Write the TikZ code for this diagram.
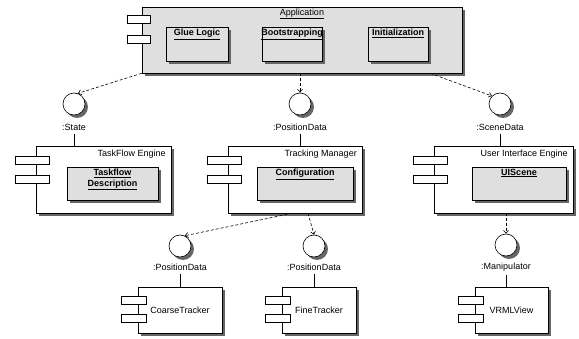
\documentclass[tikz,border=0pt]{standalone}
\usepackage{fontspec}
\setmainfont{Liberation Sans}
\usetikzlibrary{shapes,arrows.meta,positioning,shadows}

\begin{document}
\begin{tikzpicture}[x=1pt, y=-1pt, node distance=2pt, font=\fontsize{9}{10.5}\selectfont]
    % Define block styles
    \tikzstyle{shadowed} = [drop shadow={shadow xshift=3pt, shadow yshift=-3pt, fill=black!60, opacity=1}]
    \tikzstyle{component} = [rectangle, draw, fill=white, line width=0.6pt, inner sep=0pt, shadowed]
    \tikzstyle{part} = [rectangle, draw, fill=gray!25, line width=0.6pt, inner sep=0pt, shadowed]
    \tikzstyle{partlabel} = [font=\fontsize{9}{11}\selectfont\bfseries, align=center, inner sep=1pt]
    \tikzstyle{port} = [rectangle, draw, fill=white, line width=0.6pt, inner sep=0pt, minimum height=8pt]
    \tikzstyle{iface} = [circle, draw, fill=white, line width=0.6pt, inner sep=0pt, minimum size=22pt, shadowed]
    \tikzstyle{wire} = [draw, line width=0.6pt]
    \tikzstyle{depends} = [draw, line width=0.6pt, dash pattern=on 3pt off 2pt, -{Straight Barb[length=3pt, width=5pt]}]

    \useasboundingbox (0,0) rectangle (579,339);

    % Application
    \node [component, fill=gray!25, minimum width=320pt, minimum height=66pt] (Application) at (302,40) {};
    \node [port, minimum width=23pt] (Application_Port_A) at ([xshift=-2.5pt, yshift=-13pt]Application.north west) {};
    \node [port, minimum width=23pt] (Application_Port_B) at ([xshift=-2.5pt, yshift=-33pt]Application.north west) {};
    \node [below=1pt of Application.north, inner sep=1pt] (Application_Label) {\underline{Application}};
    \node [part, minimum width=62pt, minimum height=34pt] (Glue_Logic) at (197,44) {};
    \node [partlabel, below=1pt of Glue_Logic.north] (Glue_Logic_Label) {\underline{Glue Logic}};
    \node [part, minimum width=60pt, minimum height=34pt] (Bootstrapping) at (292,44) {};
    \node [partlabel, below=1pt of Bootstrapping.north] (Bootstrapping_Label) {\underline{Bootstrapping}};
    \node [part, minimum width=60pt, minimum height=34pt] (Initialization) at (398,44) {};
    \node [partlabel, below=1pt of Initialization.north] (Initialization_Label) {\underline{Initialization}};

    % Engines
    \node [component, minimum width=135pt, minimum height=67pt] (TaskFlow_Engine) at (103.5,179.5) {};
    \node [port, minimum width=34pt] (TaskFlow_Engine_Port_A) at ([xshift=-3pt, yshift=-15pt]TaskFlow_Engine.north west) {};
    \node [port, minimum width=34pt] (TaskFlow_Engine_Port_B) at ([xshift=-3pt, yshift=-33.5pt]TaskFlow_Engine.north west) {};
    \node [below left=1pt and 2pt of TaskFlow_Engine.north east] (TaskFlow_Engine_Label) {TaskFlow Engine};
    \node [part, minimum width=91pt, minimum height=33pt] (Taskflow_Description) at (112.5,183.5) {};
    \node [partlabel, below=1pt of Taskflow_Description.north] (Taskflow_Description_Label) {\underline{Taskflow}\\\underline{Description}};

    \node [component, minimum width=134pt, minimum height=67pt] (Tracking_Manager) at (295,179.5) {};
    \node [port, minimum width=34pt] (Tracking_Manager_Port_A) at ([xshift=-3pt, yshift=-15pt]Tracking_Manager.north west) {};
    \node [port, minimum width=34pt] (Tracking_Manager_Port_B) at ([xshift=-3pt, yshift=-33.5pt]Tracking_Manager.north west) {};
    \node [below left=1pt and 2pt of Tracking_Manager.north east] (Tracking_Manager_Label) {Tracking Manager};
    \node [part, minimum width=96pt, minimum height=33pt] (Configuration) at (305,183.5) {};
    \node [partlabel, below=1pt of Configuration.north] (Configuration_Label) {\underline{Configuration}};

    \node [component, minimum width=139pt, minimum height=67pt] (UI_Engine) at (503.5,179.5) {};
    \node [port, minimum width=34pt] (UI_Engine_Port_A) at ([xshift=-3pt, yshift=-15pt]UI_Engine.north west) {};
    \node [port, minimum width=34pt] (UI_Engine_Port_B) at ([xshift=-3pt, yshift=-33.5pt]UI_Engine.north west) {};
    \node [below left=1pt and 2pt of UI_Engine.north east] (UI_Engine_Label) {User Interface Engine};
    \node [part, minimum width=94pt, minimum height=33pt] (UIScene) at (519,183.5) {};
    \node [partlabel, below=1pt of UIScene.north] (UIScene_Label) {\underline{UIScene}};

    % Trackers and view
    \node [component, minimum width=84pt, minimum height=46pt] (CoarseTracker) at (180,310) {CoarseTracker};
    \node [port, minimum width=25pt] (CoarseTracker_Port_A) at ([xshift=-3.5pt, yshift=-14pt]CoarseTracker.north west) {};
    \node [port, minimum width=25pt] (CoarseTracker_Port_B) at ([xshift=-3.5pt, yshift=-32pt]CoarseTracker.north west) {};

    \node [component, minimum width=74pt, minimum height=46pt] (FineTracker) at (319,310) {FineTracker};
    \node [port, minimum width=25pt] (FineTracker_Port_A) at ([xshift=-3.5pt, yshift=-14pt]FineTracker.north west) {};
    \node [port, minimum width=25pt] (FineTracker_Port_B) at ([xshift=-3.5pt, yshift=-32pt]FineTracker.north west) {};

    \node [component, minimum width=73pt, minimum height=46pt] (VRMLView) at (511.5,310) {VRMLView};
    \node [port, minimum width=25pt] (VRMLView_Port_A) at ([xshift=-3.5pt, yshift=-14pt]VRMLView.north west) {};
    \node [port, minimum width=25pt] (VRMLView_Port_B) at ([xshift=-3.5pt, yshift=-32pt]VRMLView.north west) {};

    % Interfaces
    \node [iface] (State) at (74,104) {};
    \node [below=5pt of State] (State_Label) {:State};
    \node [iface] (Position_Data) at (300,104) {};
    \node [below=5pt of Position_Data] (Position_Data_Label) {:PositionData};
    \node [iface] (Scene_Data) at (500,104) {};
    \node [below=5pt of Scene_Data] (Scene_Data_Label) {:SceneData};
    \node [iface] (Coarse_Data) at (180,246) {};
    \node [below=3pt of Coarse_Data] (Coarse_Data_Label) {:PositionData};
    \node [iface] (Fine_Data) at (314,246) {};
    \node [below=3pt of Fine_Data] (Fine_Data_Label) {:PositionData};
    \node [iface] (Manipulator) at (506,245) {};
    \node [below=3pt of Manipulator] (Manipulator_Label) {:Manipulator};

    % Lines
    \path [wire] (State_Label.south) -- (State_Label.south |- TaskFlow_Engine.north);
    \path [wire] (Position_Data_Label.south) -- (Position_Data_Label.south |- Tracking_Manager.north);
    \path [wire] (Scene_Data_Label.south) -- (Scene_Data_Label.south |- UI_Engine.north);
    \path [wire] (Coarse_Data_Label.south) -- (Coarse_Data_Label.south |- CoarseTracker.north);
    \path [wire] (Fine_Data_Label.south) -- (Fine_Data_Label.south |- FineTracker.north);
    \path [wire] (Manipulator_Label.south) -- (Manipulator_Label.south |- VRMLView.north);

    % Arrows
    \path [depends] (Application.south west) -- (State.70);
    \path [depends] (Application.south -| Position_Data) -- (Position_Data.north);
    \path [depends] ([xshift=-32pt]Application.south east) -- (Scene_Data.135);
    \path [depends] ([xshift=-3pt]Tracking_Manager.south) -- (Coarse_Data.65);
    \path [depends] ([xshift=13pt]Tracking_Manager.south) -- (Fine_Data.north);
    \path [depends] (UI_Engine.south -| Manipulator) -- (Manipulator.north);

  \end{tikzpicture}
\end{document}
